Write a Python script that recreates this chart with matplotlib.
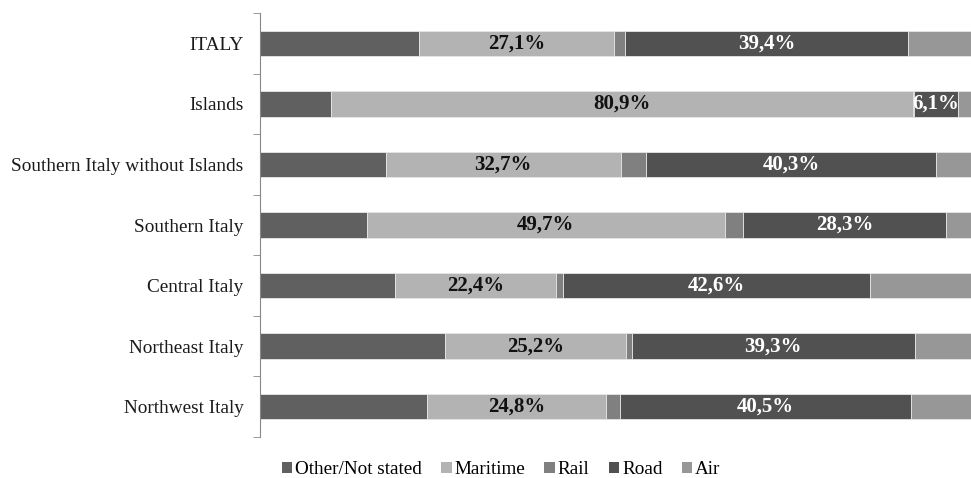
import matplotlib.pyplot as plt
from matplotlib.patches import Patch
import numpy as np

regions = ['ITALY', 'Islands', 'Southern Italy without Islands', 'Southern Italy',
           'Central Italy', 'Northeast Italy', 'Northwest Italy']

other    = [22.2,  9.9, 17.5, 14.9, 18.8, 25.7, 23.3]
maritime = [27.1, 80.9, 32.7, 49.7, 22.4, 25.2, 24.8]
rail     = [ 1.4,  0.1,  3.5,  2.5,  1.0,  0.8,  1.9]
road     = [39.4,  6.1, 40.3, 28.3, 42.6, 39.3, 40.5]
air      = [ 9.9,  3.0,  6.0,  4.6, 15.2,  9.0,  9.5]

modes = ['Other/Not stated', 'Maritime', 'Rail', 'Road', 'Air']
colors = ['#606060', '#b3b3b3', '#808080', '#515151', '#979797']
series = [other, maritime, rail, road, air]

fig = plt.figure(figsize=(9.71, 4.78), dpi=100)
ax = fig.add_axes([259.5 / 971, 1 - 437 / 478, 720 / 971, 424 / 478])

y = np.arange(len(regions))
left = np.zeros(len(regions))
for name, col, vals in zip(modes, colors, series):
    vals = np.array(vals)
    bars = ax.barh(y, vals, left=left, height=0.42, color=col,
                   edgecolor='#e6e6e6', linewidth=0.6, label=name)
    # only maritime and road carry percentage labels
    if name in ('Maritime', 'Road'):
        txt_col = '#111111' if name == 'Maritime' else 'white'
        ax.bar_label(bars, labels=[f'{v:.1f}%'.replace('.', ',') for v in vals],
                     label_type='center', color=txt_col, fontsize=15,
                     fontweight='bold', family='Liberation Serif')
    left += vals

ax.set_xlim(0, 100)
ax.set_ylim(len(regions) - 0.5, -0.5)
ax.set_yticks(y)
ax.set_yticklabels(regions, family='Liberation Serif', fontsize=13.9, color='#1a1a1a')
ax.set_yticks(np.arange(-0.5, len(regions)), minor=True)
ax.tick_params(axis='y', which='major', length=0, pad=11.5)
ax.tick_params(axis='y', which='minor', length=5, color='#888888', direction='out')
ax.set_xticks([])
for s in ['top', 'right', 'bottom']:
    ax.spines[s].set_visible(False)
ax.spines['left'].set_color('#888888')

handles = [Patch(facecolor=c, label=m) for m, c in zip(modes, colors)]
fig.legend(handles=handles, loc='center', bbox_to_anchor=(0.516, 1 - 470 / 478),
           ncol=5, frameon=False, prop={'family': 'Liberation Serif', 'size': 13.8},
           handlelength=0.55, handleheight=0.55, handletextpad=0.15, columnspacing=1.0)

fig.savefig('out.png', dpi=100)
